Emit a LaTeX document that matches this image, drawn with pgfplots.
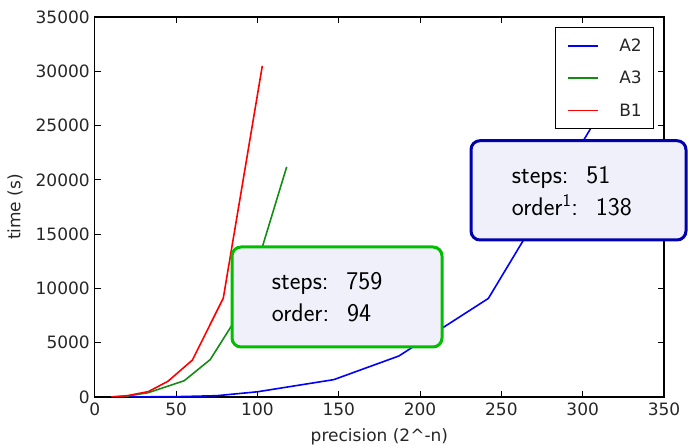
\documentclass[border=0pt]{standalone}
\usepackage{pgfplots}
\pgfplotsset{compat=1.18}
\usepackage{fontspec}
\setmainfont{DejaVu Sans}
\definecolor{boxfill}{RGB}{240,240,250}
\definecolor{gborder}{RGB}{0,190,0}
\definecolor{bborder}{RGB}{0,0,175}
\definecolor{mplgreen}{RGB}{20,140,20}
\begin{document}
\begin{tikzpicture}[x=1pt,y=1pt]
\useasboundingbox (0,0) rectangle (688,446);
\begin{axis}[
  at={(94.8pt,49pt)}, anchor=south west, scale only axis,
  width=569.2pt, height=380pt,
  xmin=0, xmax=350, ymin=0, ymax=35000,
  xtick={0,50,...,350}, ytick={0,5000,...,35000},
  xtick pos=both, ytick pos=both,
  scaled y ticks=false,
  yticklabel style={/pgf/number format/1000 sep={}, xshift=-1.5pt},
  xticklabel style={yshift=-2pt},
  /pgf/number format/assume math mode=true,
  tick align=inside, major tick length=6pt,
  tick style={black, line width=1pt},
  axis line style={line width=1.3pt},
  tick label style={font=\fontsize{17}{17}\selectfont, text=black!85},
  xlabel={precision (2\textasciicircum-n)}, ylabel={time (s)},
  label style={font=\fontsize{17}{17}\selectfont, text=black!85},
  xlabel style={at={(axis description cs:0.5,-0.1053)}, anchor=center},
  ylabel style={at={(axis description cs:-0.1402,0.5)}, anchor=center, rotate=0},
  legend style={at={(axis description cs:1,1)}, xshift=-9.7pt, yshift=-10.3pt,
    anchor=north east, draw=black, line width=1.1pt,
    font=\fontsize{17}{17}\selectfont, inner xsep=12pt, inner ysep=2pt,
    nodes={inner sep=0pt, minimum height=32.3pt, text=black!85},
    /tikz/every odd column/.append style={column sep=20pt}},
  legend cell align=left,
  legend image code/.code={\draw[#1] (0pt,0pt) -- (30pt,0pt);},
]
\addplot[blue, line width=1.6pt] coordinates {
  (10,0) (50,30) (75,120) (100,480) (147,1600) (187,3780) (242,9080) (310,26000)};
\addlegendentry{A2}
\addplot[mplgreen, line width=1.6pt] coordinates {
  (10,0) (20,90) (33,400) (55,1500) (71,3450) (83,6300) (92,8400) (118,21200)};
\addlegendentry{A3}
\addplot[red, line width=1.6pt] coordinates {
  (10,0) (20,120) (33,500) (45,1450) (60,3400) (79,9100) (103,30500)};
\addlegendentry{B1}
\end{axis}
\draw[line width=3pt, draw=gborder, fill=boxfill, rounded corners=9pt] (232,99) rectangle (442,199);
\draw[line width=3pt, draw=bborder, fill=boxfill, rounded corners=9pt] (471,206) rectangle (686,305.3);
\begin{scope}[every node/.style={anchor=base west, inner sep=0pt, font=\sffamily\fontsize{25.5}{30}\selectfont}]
\node at (271.7,156) {steps:\hspace{0.7em}759};
\node at (271.7,124.3) {order:\hspace{0.7em}94};
\node at (511.7,262) {steps:\hspace{0.7em}51};
\node at (511.7,230) {order\textsuperscript{1}:\hspace{0.7em}138};
\end{scope}
\end{tikzpicture}
\end{document}
